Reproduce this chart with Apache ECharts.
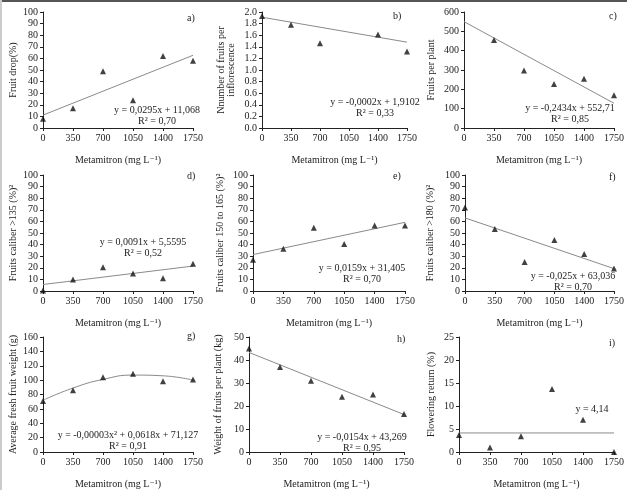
<!DOCTYPE html>
<html>
<head>
<meta charset="utf-8">
<script src="https://cdn.jsdelivr.net/npm/echarts@6/dist/echarts.min.js"></script>
<style>
  html, body { margin: 0; padding: 0; background: #fff; }
  #main { width: 627px; height: 490px; }
</style>
</head>
<body>
<div id="main"></div>
<script>
// doses on the x axis (mg L-1)
const doses = [0, 350, 700, 1050, 1400, 1750];

// observed means, one array per panel (null = no marker shown)
const fruitDrop = [8, 17, 49, 24, 62, 58];
const fruitsPerInflo = [1.93, 1.78, 1.46, null, 1.61, 1.32];
const fruitsPerPlant = [null, 455, 298, 227, 255, 170];
const caliber135 = [0.5, 10, 20.5, 15, 11, 23.5];
const caliber150 = [27, 36.5, 54.5, 40.5, 56.5, 56.5];
const caliber180 = [72, 53.5, 25, 44, 32, 19.5];
const avgWeight = [71, 86, 104, 109, 98.5, 101];
const weightPerPlant = [45, 37, 31, 24, 25, 16.5];
const flowerReturn = [3.7, 1, 3.4, 13.7, 7, 0];

// fitted lines (value at x = 0 and x = 1750)
const trendA = [11.1, 62.7];
const trendB = [1.91, 1.48];
const trendC = [550, 128];
const trendD = [5.6, 21.5];
const trendE = [31.4, 59.2];
const trendF = [63, 19.3];
const trendG = [72, 89, 101, 107, 106, 100]; // quadratic curve at each dose
const trendH = [43.3, 16.3];
const trendI = [4.14, 4.14];

const FONT = '"Liberation Serif", "DejaVu Serif", serif';
const xTitle = 'Metamitron (mg L\u207B\u00B9)';

const panels = [
  { tag: 'a)', box: [43, 12, 150, 116], max: 100, step: 10, name: 'Fruit drop(%)', gap: 25,
    obs: fruitDrop, fit: trendA, eq: ['y = 0,0295x + 11,068', 'R\u00B2 = 0,70'], eqAt: [157, 110], tagAt: [193, 19] },
  { tag: 'b)', box: [262, 12, 145, 116], max: 2, step: 0.2, name: 'Nnumber of fruits per\ninflorescence', gap: 26, dec: 1,
    obs: fruitsPerInflo, fit: trendB, eq: ['y = -0,0002x + 1,9102', 'R\u00B2 = 0,33'], eqAt: [375, 102], tagAt: [399, 17] },
  { tag: 'c)', box: [464, 12, 150, 116], max: 600, step: 100, name: 'Fruits per plant', gap: 28,
    obs: fruitsPerPlant, fit: trendC, eq: ['y = -0,2434x + 552,71', 'R\u00B2 = 0,85'], eqAt: [570, 108], tagAt: [615, 17] },
  { tag: 'd)', box: [43, 175, 150, 116], max: 100, step: 10, name: 'Fruits caliber >135 (%)\u00B2', gap: 25,
    obs: caliber135, fit: trendD, eq: ['y = 0,0091x + 5,5595', 'R\u00B2 = 0,52'], eqAt: [143, 242], tagAt: [193, 177] },
  { tag: 'e)', box: [253, 175, 152, 116], max: 100, step: 10, name: 'Fruits caliber 150 to 165 (%)\u00B2', gap: 28,
    obs: caliber150, fit: trendE, eq: ['y = 0,0159x + 31,405', 'R\u00B2 = 0,70'], eqAt: [362, 268], tagAt: [399, 177] },
  { tag: 'f)', box: [465, 175, 149, 116], max: 100, step: 10, name: 'Fruits caliber >180 (%)\u00B2', gap: 30,
    obs: caliber180, fit: trendF, eq: ['y = -0,025x + 63,036', 'R\u00B2 = 0,70'], eqAt: [573, 276], tagAt: [615, 178] },
  { tag: 'g)', box: [43, 337, 150, 116], max: 160, step: 20, name: 'Average fresh fruit weight (g)', gap: 25,
    obs: avgWeight, fit: trendG, eq: ['y = -0,00003x\u00B2 + 0,0618x + 71,127', 'R\u00B2 = 0,91'], eqAt: [128, 435], tagAt: [193, 337] },
  { tag: 'h)', box: [249, 337, 155, 116], max: 50, step: 10, name: 'Weight of fruits per plant (kg)', gap: 26,
    obs: weightPerPlant, fit: trendH, eq: ['y = -0,0154x + 43,269', 'R\u00B2 = 0,95'], eqAt: [362, 437], tagAt: [403, 340] },
  { tag: 'i)', box: [459, 337, 155, 117], max: 25, step: 5, name: 'Flowering return (%)', gap: 23,
    obs: flowerReturn, fit: trendI, eq: ['y = 4,14'], eqAt: [592, 409], tagAt: [615, 344] }
];

const grid = [], xAxis = [], yAxis = [], series = [], graphic = [];

panels.forEach((p, i) => {
  grid.push({ left: p.box[0], top: p.box[1], width: p.box[2], height: p.box[3] });
  xAxis.push({
    gridIndex: i, type: 'value', min: 0, max: 1750, interval: 350,
    name: xTitle, nameLocation: 'middle', nameGap: 27,
    nameTextStyle: { fontFamily: FONT, fontSize: 10, color: '#222' },
    axisLine: { lineStyle: { color: '#222', width: 1 } },
    axisTick: { length: 3, lineStyle: { color: '#222' } },
    axisLabel: { fontFamily: FONT, fontSize: 10, color: '#222', margin: 5, formatter: v => String(v) },
    splitLine: { show: false }
  });
  yAxis.push({
    gridIndex: i, type: 'value', min: 0, max: p.max, interval: p.step,
    name: p.name, nameLocation: 'middle', nameGap: p.gap,
    nameTextStyle: { fontFamily: FONT, fontSize: 10, color: '#222', lineHeight: 10 },
    axisLine: { show: true, lineStyle: { color: '#222', width: 1 } },
    axisTick: { show: true, length: 3, lineStyle: { color: '#222' } },
    axisLabel: {
      fontFamily: FONT, fontSize: 10, color: '#222', margin: 5,
      formatter: v => p.dec ? v.toFixed(p.dec) : String(v)
    },
    splitLine: { show: false }
  });

  const pts = [];
  doses.forEach((d, k) => { if (p.obs[k] != null) pts.push([d, p.obs[k]]); });

  let fitData;
  if (p.fit.length === doses.length) fitData = doses.map((d, k) => [d, p.fit[k]]);
  else fitData = [[doses[0], p.fit[0]], [doses[doses.length - 1], p.fit[1]]];

  series.push({
    type: 'line', xAxisIndex: i, yAxisIndex: i, data: fitData,
    smooth: p.fit.length > 2, showSymbol: false, symbol: 'none', silent: true,
    lineStyle: { color: '#8a8a8a', width: 1 }, z: 2
  });
  series.push({
    type: 'scatter', xAxisIndex: i, yAxisIndex: i, data: pts,
    symbol: 'triangle', symbolSize: 6, itemStyle: { color: '#111' }, z: 3
  });

  graphic.push({
    type: 'text', left: p.tagAt[0] - 6, top: p.tagAt[1] - 6,
    style: { text: p.tag, font: '10px ' + FONT, fill: '#222' }
  });
  p.eq.forEach((line, k) => {
    graphic.push({
      type: 'text', x: p.eqAt[0], y: p.eqAt[1] + k * 11,
      style: { text: line, font: '10px ' + FONT, fill: '#222', align: 'center', verticalAlign: 'middle' }
    });
  });
});

// thin frame lines of the scanned figure
graphic.push({ type: 'rect', shape: { x: 0, y: 0, width: 627, height: 2 }, style: { fill: '#555' } });
graphic.push({ type: 'rect', shape: { x: 0, y: 0, width: 2, height: 490 }, style: { fill: '#ccc' } });

const chart = echarts.init(document.getElementById('main'));
chart.setOption({
  animation: false,
  backgroundColor: '#fff',
  grid, xAxis, yAxis, series, graphic
});
</script>
</body>
</html>
